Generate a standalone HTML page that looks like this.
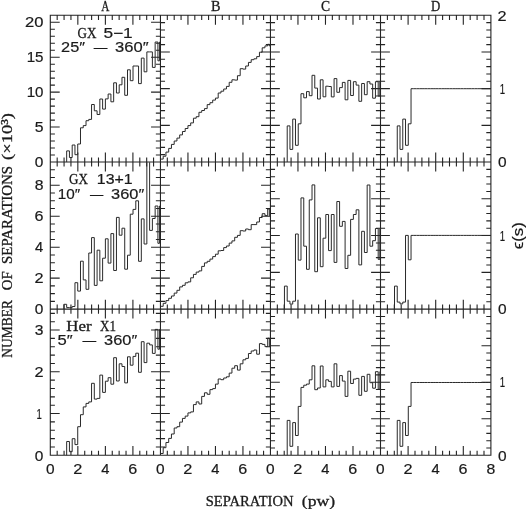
<!DOCTYPE html>
<html lang="en"><head><meta charset="utf-8"><title>Separation histograms</title>
<style>html,body{margin:0;padding:0;background:#fff;overflow:hidden}svg{display:block}</style></head>
<body>
<svg width="526" height="509" viewBox="0 0 526 509">
<rect width="526" height="509" fill="#fff"/>
<defs>
<clipPath id="cp00"><rect x="50.30" y="15.30" width="110.15" height="146.70"/></clipPath>
<clipPath id="cp01"><rect x="160.45" y="15.30" width="110.00" height="146.70"/></clipPath>
<clipPath id="cp02"><rect x="270.45" y="15.30" width="110.05" height="146.70"/></clipPath>
<clipPath id="cp03"><rect x="380.50" y="15.30" width="110.40" height="146.70"/></clipPath>
<clipPath id="cp10"><rect x="50.30" y="162.00" width="110.15" height="147.15"/></clipPath>
<clipPath id="cp11"><rect x="160.45" y="162.00" width="110.00" height="147.15"/></clipPath>
<clipPath id="cp12"><rect x="270.45" y="162.00" width="110.05" height="147.15"/></clipPath>
<clipPath id="cp13"><rect x="380.50" y="162.00" width="110.40" height="147.15"/></clipPath>
<clipPath id="cp20"><rect x="50.30" y="309.15" width="110.15" height="146.15"/></clipPath>
<clipPath id="cp21"><rect x="160.45" y="309.15" width="110.00" height="146.15"/></clipPath>
<clipPath id="cp22"><rect x="270.45" y="309.15" width="110.05" height="146.15"/></clipPath>
<clipPath id="cp23"><rect x="380.50" y="309.15" width="110.40" height="146.15"/></clipPath>
</defs>
<path d="M50.30 14.75V455.85M160.45 14.75V455.85M270.45 14.75V455.85M380.50 14.75V455.85M490.90 14.75V455.85M49.75 15.30H491.45M49.75 162.00H491.45M49.75 309.15H491.45M49.75 455.30H491.45M57.18 15.30V19.90M57.18 162.00V157.40M57.18 162.00V166.60M57.18 309.15V304.55M57.18 309.15V313.75M57.18 455.30V450.70M64.07 15.30V19.90M64.07 162.00V157.40M64.07 162.00V166.60M64.07 309.15V304.55M64.07 309.15V313.75M64.07 455.30V450.70M70.95 15.30V19.90M70.95 162.00V157.40M70.95 162.00V166.60M70.95 309.15V304.55M70.95 309.15V313.75M70.95 455.30V450.70M77.84 15.30V24.70M77.84 162.00V152.60M77.84 162.00V171.40M77.84 309.15V299.75M77.84 309.15V318.55M77.84 455.30V445.90M84.72 15.30V19.90M84.72 162.00V157.40M84.72 162.00V166.60M84.72 309.15V304.55M84.72 309.15V313.75M84.72 455.30V450.70M91.61 15.30V19.90M91.61 162.00V157.40M91.61 162.00V166.60M91.61 309.15V304.55M91.61 309.15V313.75M91.61 455.30V450.70M98.49 15.30V19.90M98.49 162.00V157.40M98.49 162.00V166.60M98.49 309.15V304.55M98.49 309.15V313.75M98.49 455.30V450.70M105.38 15.30V24.70M105.38 162.00V152.60M105.38 162.00V171.40M105.38 309.15V299.75M105.38 309.15V318.55M105.38 455.30V445.90M112.26 15.30V19.90M112.26 162.00V157.40M112.26 162.00V166.60M112.26 309.15V304.55M112.26 309.15V313.75M112.26 455.30V450.70M119.14 15.30V19.90M119.14 162.00V157.40M119.14 162.00V166.60M119.14 309.15V304.55M119.14 309.15V313.75M119.14 455.30V450.70M126.03 15.30V19.90M126.03 162.00V157.40M126.03 162.00V166.60M126.03 309.15V304.55M126.03 309.15V313.75M126.03 455.30V450.70M132.91 15.30V24.70M132.91 162.00V152.60M132.91 162.00V171.40M132.91 309.15V299.75M132.91 309.15V318.55M132.91 455.30V445.90M139.80 15.30V19.90M139.80 162.00V157.40M139.80 162.00V166.60M139.80 309.15V304.55M139.80 309.15V313.75M139.80 455.30V450.70M146.68 15.30V19.90M146.68 162.00V157.40M146.68 162.00V166.60M146.68 309.15V304.55M146.68 309.15V313.75M146.68 455.30V450.70M153.57 15.30V19.90M153.57 162.00V157.40M153.57 162.00V166.60M153.57 309.15V304.55M153.57 309.15V313.75M153.57 455.30V450.70M167.32 15.30V19.90M167.32 162.00V157.40M167.32 162.00V166.60M167.32 309.15V304.55M167.32 309.15V313.75M167.32 455.30V450.70M174.20 15.30V19.90M174.20 162.00V157.40M174.20 162.00V166.60M174.20 309.15V304.55M174.20 309.15V313.75M174.20 455.30V450.70M181.07 15.30V19.90M181.07 162.00V157.40M181.07 162.00V166.60M181.07 309.15V304.55M181.07 309.15V313.75M181.07 455.30V450.70M187.95 15.30V24.70M187.95 162.00V152.60M187.95 162.00V171.40M187.95 309.15V299.75M187.95 309.15V318.55M187.95 455.30V445.90M194.82 15.30V19.90M194.82 162.00V157.40M194.82 162.00V166.60M194.82 309.15V304.55M194.82 309.15V313.75M194.82 455.30V450.70M201.70 15.30V19.90M201.70 162.00V157.40M201.70 162.00V166.60M201.70 309.15V304.55M201.70 309.15V313.75M201.70 455.30V450.70M208.57 15.30V19.90M208.57 162.00V157.40M208.57 162.00V166.60M208.57 309.15V304.55M208.57 309.15V313.75M208.57 455.30V450.70M215.45 15.30V24.70M215.45 162.00V152.60M215.45 162.00V171.40M215.45 309.15V299.75M215.45 309.15V318.55M215.45 455.30V445.90M222.32 15.30V19.90M222.32 162.00V157.40M222.32 162.00V166.60M222.32 309.15V304.55M222.32 309.15V313.75M222.32 455.30V450.70M229.20 15.30V19.90M229.20 162.00V157.40M229.20 162.00V166.60M229.20 309.15V304.55M229.20 309.15V313.75M229.20 455.30V450.70M236.07 15.30V19.90M236.07 162.00V157.40M236.07 162.00V166.60M236.07 309.15V304.55M236.07 309.15V313.75M236.07 455.30V450.70M242.95 15.30V24.70M242.95 162.00V152.60M242.95 162.00V171.40M242.95 309.15V299.75M242.95 309.15V318.55M242.95 455.30V445.90M249.82 15.30V19.90M249.82 162.00V157.40M249.82 162.00V166.60M249.82 309.15V304.55M249.82 309.15V313.75M249.82 455.30V450.70M256.70 15.30V19.90M256.70 162.00V157.40M256.70 162.00V166.60M256.70 309.15V304.55M256.70 309.15V313.75M256.70 455.30V450.70M263.57 15.30V19.90M263.57 162.00V157.40M263.57 162.00V166.60M263.57 309.15V304.55M263.57 309.15V313.75M263.57 455.30V450.70M277.33 15.30V19.90M277.33 162.00V157.40M277.33 162.00V166.60M277.33 309.15V304.55M277.33 309.15V313.75M277.33 455.30V450.70M284.21 15.30V19.90M284.21 162.00V157.40M284.21 162.00V166.60M284.21 309.15V304.55M284.21 309.15V313.75M284.21 455.30V450.70M291.08 15.30V19.90M291.08 162.00V157.40M291.08 162.00V166.60M291.08 309.15V304.55M291.08 309.15V313.75M291.08 455.30V450.70M297.96 15.30V24.70M297.96 162.00V152.60M297.96 162.00V171.40M297.96 309.15V299.75M297.96 309.15V318.55M297.96 455.30V445.90M304.84 15.30V19.90M304.84 162.00V157.40M304.84 162.00V166.60M304.84 309.15V304.55M304.84 309.15V313.75M304.84 455.30V450.70M311.72 15.30V19.90M311.72 162.00V157.40M311.72 162.00V166.60M311.72 309.15V304.55M311.72 309.15V313.75M311.72 455.30V450.70M318.60 15.30V19.90M318.60 162.00V157.40M318.60 162.00V166.60M318.60 309.15V304.55M318.60 309.15V313.75M318.60 455.30V450.70M325.48 15.30V24.70M325.48 162.00V152.60M325.48 162.00V171.40M325.48 309.15V299.75M325.48 309.15V318.55M325.48 455.30V445.90M332.35 15.30V19.90M332.35 162.00V157.40M332.35 162.00V166.60M332.35 309.15V304.55M332.35 309.15V313.75M332.35 455.30V450.70M339.23 15.30V19.90M339.23 162.00V157.40M339.23 162.00V166.60M339.23 309.15V304.55M339.23 309.15V313.75M339.23 455.30V450.70M346.11 15.30V19.90M346.11 162.00V157.40M346.11 162.00V166.60M346.11 309.15V304.55M346.11 309.15V313.75M346.11 455.30V450.70M352.99 15.30V24.70M352.99 162.00V152.60M352.99 162.00V171.40M352.99 309.15V299.75M352.99 309.15V318.55M352.99 455.30V445.90M359.87 15.30V19.90M359.87 162.00V157.40M359.87 162.00V166.60M359.87 309.15V304.55M359.87 309.15V313.75M359.87 455.30V450.70M366.74 15.30V19.90M366.74 162.00V157.40M366.74 162.00V166.60M366.74 309.15V304.55M366.74 309.15V313.75M366.74 455.30V450.70M373.62 15.30V19.90M373.62 162.00V157.40M373.62 162.00V166.60M373.62 309.15V304.55M373.62 309.15V313.75M373.62 455.30V450.70M387.40 15.30V19.90M387.40 162.00V157.40M387.40 162.00V166.60M387.40 309.15V304.55M387.40 309.15V313.75M387.40 455.30V450.70M394.30 15.30V19.90M394.30 162.00V157.40M394.30 162.00V166.60M394.30 309.15V304.55M394.30 309.15V313.75M394.30 455.30V450.70M401.20 15.30V19.90M401.20 162.00V157.40M401.20 162.00V166.60M401.20 309.15V304.55M401.20 309.15V313.75M401.20 455.30V450.70M408.10 15.30V24.70M408.10 162.00V152.60M408.10 162.00V171.40M408.10 309.15V299.75M408.10 309.15V318.55M408.10 455.30V445.90M415.00 15.30V19.90M415.00 162.00V157.40M415.00 162.00V166.60M415.00 309.15V304.55M415.00 309.15V313.75M415.00 455.30V450.70M421.90 15.30V19.90M421.90 162.00V157.40M421.90 162.00V166.60M421.90 309.15V304.55M421.90 309.15V313.75M421.90 455.30V450.70M428.80 15.30V19.90M428.80 162.00V157.40M428.80 162.00V166.60M428.80 309.15V304.55M428.80 309.15V313.75M428.80 455.30V450.70M435.70 15.30V24.70M435.70 162.00V152.60M435.70 162.00V171.40M435.70 309.15V299.75M435.70 309.15V318.55M435.70 455.30V445.90M442.60 15.30V19.90M442.60 162.00V157.40M442.60 162.00V166.60M442.60 309.15V304.55M442.60 309.15V313.75M442.60 455.30V450.70M449.50 15.30V19.90M449.50 162.00V157.40M449.50 162.00V166.60M449.50 309.15V304.55M449.50 309.15V313.75M449.50 455.30V450.70M456.40 15.30V19.90M456.40 162.00V157.40M456.40 162.00V166.60M456.40 309.15V304.55M456.40 309.15V313.75M456.40 455.30V450.70M463.30 15.30V24.70M463.30 162.00V152.60M463.30 162.00V171.40M463.30 309.15V299.75M463.30 309.15V318.55M463.30 455.30V445.90M470.20 15.30V19.90M470.20 162.00V157.40M470.20 162.00V166.60M470.20 309.15V304.55M470.20 309.15V313.75M470.20 455.30V450.70M477.10 15.30V19.90M477.10 162.00V157.40M477.10 162.00V166.60M477.10 309.15V304.55M477.10 309.15V313.75M477.10 455.30V450.70M484.00 15.30V19.90M484.00 162.00V157.40M484.00 162.00V166.60M484.00 309.15V304.55M484.00 309.15V313.75M484.00 455.30V450.70M50.30 155.01H54.90M160.45 155.01H155.85M50.30 148.03H54.90M160.45 148.03H155.85M50.30 141.04H54.90M160.45 141.04H155.85M50.30 134.06H54.90M160.45 134.06H155.85M50.30 127.07H59.70M160.45 127.07H151.05M50.30 120.09H54.90M160.45 120.09H155.85M50.30 113.10H54.90M160.45 113.10H155.85M50.30 106.11H54.90M160.45 106.11H155.85M50.30 99.13H54.90M160.45 99.13H155.85M50.30 92.14H59.70M160.45 92.14H151.05M50.30 85.16H54.90M160.45 85.16H155.85M50.30 78.17H54.90M160.45 78.17H155.85M50.30 71.19H54.90M160.45 71.19H155.85M50.30 64.20H54.90M160.45 64.20H155.85M50.30 57.21H59.70M160.45 57.21H151.05M50.30 50.23H54.90M160.45 50.23H155.85M50.30 43.24H54.90M160.45 43.24H155.85M50.30 36.26H54.90M160.45 36.26H155.85M50.30 29.27H54.90M160.45 29.27H155.85M50.30 22.29H59.70M160.45 22.29H151.05M160.45 154.66H165.05M270.45 154.66H265.85M160.45 147.33H165.05M270.45 147.33H265.85M160.45 140.00H165.05M270.45 140.00H265.85M160.45 132.66H165.05M270.45 132.66H265.85M160.45 125.33H169.85M270.45 125.33H261.05M160.45 117.99H165.05M270.45 117.99H265.85M160.45 110.66H165.05M270.45 110.66H265.85M160.45 103.32H165.05M270.45 103.32H265.85M160.45 95.98H165.05M270.45 95.98H265.85M160.45 88.65H169.85M270.45 88.65H261.05M160.45 81.31H165.05M270.45 81.31H265.85M160.45 73.98H165.05M270.45 73.98H265.85M160.45 66.64H165.05M270.45 66.64H265.85M160.45 59.31H165.05M270.45 59.31H265.85M160.45 51.97H169.85M270.45 51.97H261.05M160.45 44.64H165.05M270.45 44.64H265.85M160.45 37.31H165.05M270.45 37.31H265.85M160.45 29.97H165.05M270.45 29.97H265.85M160.45 22.63H165.05M270.45 22.63H265.85M270.45 154.66H275.05M380.50 154.66H375.90M270.45 147.33H275.05M380.50 147.33H375.90M270.45 140.00H275.05M380.50 140.00H375.90M270.45 132.66H275.05M380.50 132.66H375.90M270.45 125.33H279.85M380.50 125.33H371.10M270.45 117.99H275.05M380.50 117.99H375.90M270.45 110.66H275.05M380.50 110.66H375.90M270.45 103.32H275.05M380.50 103.32H375.90M270.45 95.98H275.05M380.50 95.98H375.90M270.45 88.65H279.85M380.50 88.65H371.10M270.45 81.31H275.05M380.50 81.31H375.90M270.45 73.98H275.05M380.50 73.98H375.90M270.45 66.64H275.05M380.50 66.64H375.90M270.45 59.31H275.05M380.50 59.31H375.90M270.45 51.97H279.85M380.50 51.97H371.10M270.45 44.64H275.05M380.50 44.64H375.90M270.45 37.31H275.05M380.50 37.31H375.90M270.45 29.97H275.05M380.50 29.97H375.90M270.45 22.63H275.05M380.50 22.63H375.90M380.50 154.66H385.10M490.90 154.66H486.30M380.50 147.33H385.10M490.90 147.33H486.30M380.50 140.00H385.10M490.90 140.00H486.30M380.50 132.66H385.10M490.90 132.66H486.30M380.50 125.33H389.90M490.90 125.33H481.50M380.50 117.99H385.10M490.90 117.99H486.30M380.50 110.66H385.10M490.90 110.66H486.30M380.50 103.32H385.10M490.90 103.32H486.30M380.50 95.98H385.10M490.90 95.98H486.30M380.50 88.65H389.90M490.90 88.65H481.50M380.50 81.31H385.10M490.90 81.31H486.30M380.50 73.98H385.10M490.90 73.98H486.30M380.50 66.64H385.10M490.90 66.64H486.30M380.50 59.31H385.10M490.90 59.31H486.30M380.50 51.97H389.90M490.90 51.97H481.50M380.50 44.64H385.10M490.90 44.64H486.30M380.50 37.31H385.10M490.90 37.31H486.30M380.50 29.97H385.10M490.90 29.97H486.30M380.50 22.63H385.10M490.90 22.63H486.30M50.30 301.41H54.90M160.45 301.41H155.85M50.30 293.66H54.90M160.45 293.66H155.85M50.30 285.92H54.90M160.45 285.92H155.85M50.30 278.17H59.70M160.45 278.17H151.05M50.30 270.43H54.90M160.45 270.43H155.85M50.30 262.68H54.90M160.45 262.68H155.85M50.30 254.94H54.90M160.45 254.94H155.85M50.30 247.19H59.70M160.45 247.19H151.05M50.30 239.45H54.90M160.45 239.45H155.85M50.30 231.70H54.90M160.45 231.70H155.85M50.30 223.96H54.90M160.45 223.96H155.85M50.30 216.21H59.70M160.45 216.21H151.05M50.30 208.47H54.90M160.45 208.47H155.85M50.30 200.72H54.90M160.45 200.72H155.85M50.30 192.98H54.90M160.45 192.98H155.85M50.30 185.23H59.70M160.45 185.23H151.05M50.30 177.49H54.90M160.45 177.49H155.85M50.30 169.74H54.90M160.45 169.74H155.85M160.45 301.41H165.05M270.45 301.41H265.85M160.45 293.66H165.05M270.45 293.66H265.85M160.45 285.92H165.05M270.45 285.92H265.85M160.45 278.17H169.85M270.45 278.17H261.05M160.45 270.43H165.05M270.45 270.43H265.85M160.45 262.68H165.05M270.45 262.68H265.85M160.45 254.94H165.05M270.45 254.94H265.85M160.45 247.19H169.85M270.45 247.19H261.05M160.45 239.45H165.05M270.45 239.45H265.85M160.45 231.70H165.05M270.45 231.70H265.85M160.45 223.96H165.05M270.45 223.96H265.85M160.45 216.21H169.85M270.45 216.21H261.05M160.45 208.47H165.05M270.45 208.47H265.85M160.45 200.72H165.05M270.45 200.72H265.85M160.45 192.98H165.05M270.45 192.98H265.85M160.45 185.23H169.85M270.45 185.23H261.05M160.45 177.49H165.05M270.45 177.49H265.85M160.45 169.74H165.05M270.45 169.74H265.85M270.45 301.79H275.05M380.50 301.79H375.90M270.45 294.44H275.05M380.50 294.44H375.90M270.45 287.08H275.05M380.50 287.08H375.90M270.45 279.72H275.05M380.50 279.72H375.90M270.45 272.36H279.85M380.50 272.36H371.10M270.45 265.00H275.05M380.50 265.00H375.90M270.45 257.65H275.05M380.50 257.65H375.90M270.45 250.29H275.05M380.50 250.29H375.90M270.45 242.93H275.05M380.50 242.93H375.90M270.45 235.57H279.85M380.50 235.57H371.10M270.45 228.22H275.05M380.50 228.22H375.90M270.45 220.86H275.05M380.50 220.86H375.90M270.45 213.50H275.05M380.50 213.50H375.90M270.45 206.14H275.05M380.50 206.14H375.90M270.45 198.79H279.85M380.50 198.79H371.10M270.45 191.43H275.05M380.50 191.43H375.90M270.45 184.07H275.05M380.50 184.07H375.90M270.45 176.72H275.05M380.50 176.72H375.90M270.45 169.36H275.05M380.50 169.36H375.90M380.50 301.79H385.10M490.90 301.79H486.30M380.50 294.44H385.10M490.90 294.44H486.30M380.50 287.08H385.10M490.90 287.08H486.30M380.50 279.72H385.10M490.90 279.72H486.30M380.50 272.36H389.90M490.90 272.36H481.50M380.50 265.00H385.10M490.90 265.00H486.30M380.50 257.65H385.10M490.90 257.65H486.30M380.50 250.29H385.10M490.90 250.29H486.30M380.50 242.93H385.10M490.90 242.93H486.30M380.50 235.57H389.90M490.90 235.57H481.50M380.50 228.22H385.10M490.90 228.22H486.30M380.50 220.86H385.10M490.90 220.86H486.30M380.50 213.50H385.10M490.90 213.50H486.30M380.50 206.14H385.10M490.90 206.14H486.30M380.50 198.79H389.90M490.90 198.79H481.50M380.50 191.43H385.10M490.90 191.43H486.30M380.50 184.07H385.10M490.90 184.07H486.30M380.50 176.72H385.10M490.90 176.72H486.30M380.50 169.36H385.10M490.90 169.36H486.30M50.30 446.95H54.90M160.45 446.95H155.85M50.30 438.60H54.90M160.45 438.60H155.85M50.30 430.25H54.90M160.45 430.25H155.85M50.30 421.89H54.90M160.45 421.89H155.85M50.30 413.54H59.70M160.45 413.54H151.05M50.30 405.19H54.90M160.45 405.19H155.85M50.30 396.84H54.90M160.45 396.84H155.85M50.30 388.49H54.90M160.45 388.49H155.85M50.30 380.14H54.90M160.45 380.14H155.85M50.30 371.79H59.70M160.45 371.79H151.05M50.30 363.43H54.90M160.45 363.43H155.85M50.30 355.08H54.90M160.45 355.08H155.85M50.30 346.73H54.90M160.45 346.73H155.85M50.30 338.38H54.90M160.45 338.38H155.85M50.30 330.03H59.70M160.45 330.03H151.05M50.30 321.68H54.90M160.45 321.68H155.85M50.30 313.33H54.90M160.45 313.33H155.85M160.45 446.95H165.05M270.45 446.95H265.85M160.45 438.60H165.05M270.45 438.60H265.85M160.45 430.25H165.05M270.45 430.25H265.85M160.45 421.89H165.05M270.45 421.89H265.85M160.45 413.54H169.85M270.45 413.54H261.05M160.45 405.19H165.05M270.45 405.19H265.85M160.45 396.84H165.05M270.45 396.84H265.85M160.45 388.49H165.05M270.45 388.49H265.85M160.45 380.14H165.05M270.45 380.14H265.85M160.45 371.79H169.85M270.45 371.79H261.05M160.45 363.43H165.05M270.45 363.43H265.85M160.45 355.08H165.05M270.45 355.08H265.85M160.45 346.73H165.05M270.45 346.73H265.85M160.45 338.38H165.05M270.45 338.38H265.85M160.45 330.03H169.85M270.45 330.03H261.05M160.45 321.68H165.05M270.45 321.68H265.85M160.45 313.33H165.05M270.45 313.33H265.85M270.45 447.99H275.05M380.50 447.99H375.90M270.45 440.69H275.05M380.50 440.69H375.90M270.45 433.38H275.05M380.50 433.38H375.90M270.45 426.07H275.05M380.50 426.07H375.90M270.45 418.76H279.85M380.50 418.76H371.10M270.45 411.45H275.05M380.50 411.45H375.90M270.45 404.15H275.05M380.50 404.15H375.90M270.45 396.84H275.05M380.50 396.84H375.90M270.45 389.53H275.05M380.50 389.53H375.90M270.45 382.23H279.85M380.50 382.23H371.10M270.45 374.92H275.05M380.50 374.92H375.90M270.45 367.61H275.05M380.50 367.61H375.90M270.45 360.30H275.05M380.50 360.30H375.90M270.45 353.00H275.05M380.50 353.00H375.90M270.45 345.69H279.85M380.50 345.69H371.10M270.45 338.38H275.05M380.50 338.38H375.90M270.45 331.07H275.05M380.50 331.07H375.90M270.45 323.76H275.05M380.50 323.76H375.90M270.45 316.46H275.05M380.50 316.46H375.90M380.50 447.99H385.10M490.90 447.99H486.30M380.50 440.69H385.10M490.90 440.69H486.30M380.50 433.38H385.10M490.90 433.38H486.30M380.50 426.07H385.10M490.90 426.07H486.30M380.50 418.76H389.90M490.90 418.76H481.50M380.50 411.45H385.10M490.90 411.45H486.30M380.50 404.15H385.10M490.90 404.15H486.30M380.50 396.84H385.10M490.90 396.84H486.30M380.50 389.53H385.10M490.90 389.53H486.30M380.50 382.23H389.90M490.90 382.23H481.50M380.50 374.92H385.10M490.90 374.92H486.30M380.50 367.61H385.10M490.90 367.61H486.30M380.50 360.30H385.10M490.90 360.30H486.30M380.50 353.00H385.10M490.90 353.00H486.30M380.50 345.69H389.90M490.90 345.69H481.50M380.50 338.38H385.10M490.90 338.38H486.30M380.50 331.07H385.10M490.90 331.07H486.30M380.50 323.76H385.10M490.90 323.76H486.30M380.50 316.46H385.10M490.90 316.46H486.30" fill="none" stroke="#242424" stroke-width="1.10" stroke-linecap="butt"/>
<path clip-path="url(#cp00)" d="M66.66 162.00 L66.66 150.70 L69.43 150.70 L69.43 157.30 L72.19 157.30 L72.19 144.80 L74.96 144.80 L74.96 154.50 L77.72 154.50 L77.72 143.80 L80.49 143.80 L80.49 127.60 L83.25 127.60 L83.25 125.40 L86.02 125.40 L86.02 120.50 L88.78 120.50 L88.78 119.20 L91.55 119.20 L91.55 104.30 L94.31 104.30 L94.31 110.60 L97.08 110.60 L97.08 114.30 L99.84 114.30 L99.84 98.80 L102.61 98.80 L102.61 108.90 L105.38 108.90 L105.38 98.70 L108.14 98.70 L108.14 93.80 L110.91 93.80 L110.91 101.60 L113.67 101.60 L113.67 82.60 L116.44 82.60 L116.44 92.80 L119.20 92.80 L119.20 84.60 L121.97 84.60 L121.97 77.10 L124.73 77.10 L124.73 95.10 L127.50 95.10 L127.50 69.60 L130.26 69.60 L130.26 80.50 L133.03 80.50 L133.03 65.80 L135.79 65.80 L135.79 65.80 L138.56 65.80 L138.56 83.40 L141.32 83.40 L141.32 57.90 L144.09 57.90 L144.09 71.60 L146.85 71.60 L146.85 51.70 L149.62 51.70 L149.62 51.70 L152.38 51.70 L152.38 67.20 L155.15 67.20 L155.15 41.80 L157.91 41.80 L157.91 60.60 L159.58 60.60 L159.58 41.80 L161.18 41.80" fill="none" stroke="#2a2a2a" stroke-width="1.00" stroke-linejoin="miter" transform="translate(0,0.2)"/>
<path clip-path="url(#cp01)" d="M160.45 158.90 L163.20 158.90 L163.20 156.00 L165.95 156.00 L165.95 151.90 L168.70 151.90 L168.70 148.20 L171.45 148.20 L171.45 144.20 L174.20 144.20 L174.20 140.80 L176.95 140.80 L176.95 137.90 L179.70 137.90 L179.70 134.70 L182.45 134.70 L182.45 131.30 L185.20 131.30 L185.20 128.30 L187.95 128.30 L187.95 125.40 L190.70 125.40 L190.70 122.70 L193.45 122.70 L193.45 118.00 L196.20 118.00 L196.20 116.50 L198.95 116.50 L198.95 112.10 L201.70 112.10 L201.70 110.30 L204.45 110.30 L204.45 108.40 L207.20 108.40 L207.20 104.40 L209.95 104.40 L209.95 102.50 L212.70 102.50 L212.70 99.90 L215.45 99.90 L215.45 97.90 L218.20 97.90 L218.20 92.80 L220.95 92.80 L220.95 91.00 L223.70 91.00 L223.70 88.80 L226.45 88.80 L226.45 86.20 L229.20 86.20 L229.20 82.10 L231.95 82.10 L231.95 79.60 L234.70 79.60 L234.70 79.90 L237.45 79.90 L237.45 75.50 L240.20 75.50 L240.20 68.50 L242.95 68.50 L242.95 68.90 L245.70 68.90 L245.70 65.80 L248.45 65.80 L248.45 62.20 L251.20 62.20 L251.20 59.50 L253.95 59.50 L253.95 58.60 L256.70 58.60 L256.70 56.40 L259.45 56.40 L259.45 52.00 L262.20 52.00 L262.20 47.60 L264.95 47.60 L264.95 45.70 L267.70 45.70 L267.70 44.10 L269.35 44.10 L269.35 45.70 L270.95 45.70" fill="none" stroke="#2a2a2a" stroke-width="1.00" stroke-linejoin="miter" transform="translate(0,0.2)"/>
<path clip-path="url(#cp02)" d="M287.21 162.00 L287.21 125.70 L289.96 125.70 L289.96 149.20 L292.72 149.20 L292.72 118.90 L295.48 118.90 L295.48 145.10 L298.24 145.10 L298.24 123.60 L300.99 123.60 L300.99 93.50 L303.75 93.50 L303.75 97.60 L306.51 97.60 L306.51 91.40 L309.26 91.40 L309.26 95.50 L312.02 95.50 L312.02 75.10 L314.78 75.10 L314.78 87.90 L317.53 87.90 L317.53 98.80 L320.29 98.80 L320.29 79.60 L323.05 79.60 L323.05 96.60 L325.81 96.60 L325.81 86.00 L328.56 86.00 L328.56 86.30 L331.32 86.30 L331.32 96.70 L334.08 96.70 L334.08 78.40 L336.83 78.40 L336.83 92.10 L339.59 92.10 L339.59 87.40 L342.35 87.40 L342.35 82.20 L345.10 82.20 L345.10 99.60 L347.86 99.60 L347.86 80.20 L350.62 80.20 L350.62 95.30 L353.38 95.30 L353.38 81.50 L356.13 81.50 L356.13 84.90 L358.89 84.90 L358.89 101.10 L361.65 101.10 L361.65 83.30 L364.40 83.30 L364.40 94.50 L367.16 94.50 L367.16 81.50 L369.92 81.50 L369.92 83.80 L372.67 83.80 L372.67 98.00 L375.43 98.00 L375.43 81.50 L378.19 81.50 L378.19 95.90 L379.84 95.90 L379.84 81.50 L381.44 81.50" fill="none" stroke="#2a2a2a" stroke-width="1.00" stroke-linejoin="miter" transform="translate(0,0.2)"/>
<path clip-path="url(#cp03)" d="M397.26 162.00 L397.26 125.70 L400.01 125.70 L400.01 149.20 L402.77 149.20 L402.77 118.90 L405.53 118.90 L405.53 145.10 L408.29 145.10 L408.29 123.60 L411.04 123.60 L411.04 88.50 L413.80 88.50 L413.80 88.50 L416.56 88.50 L416.56 88.50 L419.31 88.50 L419.31 88.50 L422.07 88.50 L422.07 88.50 L424.83 88.50 L424.83 88.50 L427.58 88.50 L427.58 88.50 L430.34 88.50 L430.34 88.50 L433.10 88.50 L433.10 88.50 L435.86 88.50 L435.86 88.50 L438.61 88.50 L438.61 88.50 L441.37 88.50 L441.37 88.50 L444.13 88.50 L444.13 88.50 L446.88 88.50 L446.88 88.50 L449.64 88.50 L449.64 88.50 L452.40 88.50 L452.40 88.50 L455.15 88.50 L455.15 88.50 L457.91 88.50 L457.91 88.50 L460.67 88.50 L460.67 88.50 L463.43 88.50 L463.43 88.50 L466.18 88.50 L466.18 88.50 L468.94 88.50 L468.94 88.50 L471.70 88.50 L471.70 88.50 L474.45 88.50 L474.45 88.50 L477.21 88.50 L477.21 88.50 L479.97 88.50 L479.97 88.50 L482.72 88.50 L482.72 88.50 L485.48 88.50 L485.48 88.50 L488.24 88.50 L488.24 88.50 L489.89 88.50 L489.89 88.50 L491.50 88.50" fill="none" stroke="#2a2a2a" stroke-width="1.00" stroke-linejoin="miter" transform="translate(0,0.2)"/>
<path clip-path="url(#cp10)" d="M63.90 309.15 L63.90 304.10 L66.66 304.10 L66.66 307.40 L69.43 307.40 L69.43 307.40 L72.19 307.40 L72.19 306.30 L74.96 306.30 L74.96 282.50 L77.72 282.50 L77.72 290.90 L80.49 290.90 L80.49 261.00 L83.25 261.00 L83.25 279.70 L86.02 279.70 L86.02 289.10 L88.78 289.10 L88.78 252.80 L91.55 252.80 L91.55 237.40 L94.31 237.40 L94.31 285.20 L97.08 285.20 L97.08 250.00 L99.84 250.00 L99.84 280.60 L102.61 280.60 L102.61 258.00 L105.38 258.00 L105.38 238.60 L108.14 238.60 L108.14 262.90 L110.91 262.90 L110.91 233.40 L113.67 233.40 L113.67 270.30 L116.44 270.30 L116.44 217.20 L119.20 217.20 L119.20 235.00 L121.97 235.00 L121.97 228.00 L124.73 228.00 L124.73 269.00 L127.50 269.00 L127.50 255.00 L130.26 255.00 L130.26 214.00 L133.03 214.00 L133.03 209.20 L135.79 209.20 L135.79 200.60 L138.56 200.60 L138.56 261.10 L141.32 261.10 L141.32 218.70 L144.09 218.70 L144.09 243.80 L146.85 243.80 L146.85 140.00 L149.62 140.00 L149.62 230.20 L152.38 230.20 L152.38 218.30 L155.15 218.30 L155.15 205.80 L157.91 205.80 L157.91 243.10 L159.58 243.10 L159.58 205.80 L161.18 205.80" fill="none" stroke="#2a2a2a" stroke-width="1.00" stroke-linejoin="miter" transform="translate(0,0.2)"/>
<path clip-path="url(#cp11)" d="M160.45 306.10 L163.20 306.10 L163.20 303.10 L165.95 303.10 L165.95 300.40 L168.70 300.40 L168.70 298.10 L171.45 298.10 L171.45 295.80 L174.20 295.80 L174.20 292.90 L176.95 292.90 L176.95 290.10 L179.70 290.10 L179.70 286.70 L182.45 286.70 L182.45 285.10 L185.20 285.10 L185.20 282.60 L187.95 282.60 L187.95 281.70 L190.70 281.70 L190.70 277.60 L193.45 277.60 L193.45 274.20 L196.20 274.20 L196.20 271.90 L198.95 271.90 L198.95 270.70 L201.70 270.70 L201.70 266.20 L204.45 266.20 L204.45 262.70 L207.20 262.70 L207.20 261.10 L209.95 261.10 L209.95 258.90 L212.70 258.90 L212.70 256.40 L215.45 256.40 L215.45 254.00 L218.20 254.00 L218.20 250.60 L220.95 250.60 L220.95 250.30 L223.70 250.30 L223.70 247.40 L226.45 247.40 L226.45 245.80 L229.20 245.80 L229.20 242.90 L231.95 242.90 L231.95 240.70 L234.70 240.70 L234.70 237.10 L237.45 237.10 L237.45 235.20 L240.20 235.20 L240.20 230.50 L242.95 230.50 L242.95 230.80 L245.70 230.80 L245.70 228.80 L248.45 228.80 L248.45 229.50 L251.20 229.50 L251.20 224.40 L253.95 224.40 L253.95 224.40 L256.70 224.40 L256.70 221.80 L259.45 221.80 L259.45 217.30 L262.20 217.30 L262.20 213.50 L264.95 213.50 L264.95 215.40 L267.70 215.40 L267.70 208.80 L269.35 208.80 L269.35 215.40 L270.95 215.40" fill="none" stroke="#2a2a2a" stroke-width="1.00" stroke-linejoin="miter" transform="translate(0,0.2)"/>
<path clip-path="url(#cp12)" d="M284.45 309.15 L284.45 285.90 L287.21 285.90 L287.21 301.00 L289.96 301.00 L289.96 303.90 L292.72 303.90 L292.72 301.00 L295.48 301.00 L295.48 233.80 L298.24 233.80 L298.24 259.90 L300.99 259.90 L300.99 197.70 L303.75 197.70 L303.75 246.00 L306.51 246.00 L306.51 269.10 L309.26 269.10 L309.26 199.70 L312.02 199.70 L312.02 184.70 L314.78 184.70 L314.78 271.50 L317.53 271.50 L317.53 217.60 L320.29 217.60 L320.29 266.50 L323.05 266.50 L323.05 238.00 L325.81 238.00 L325.81 214.30 L328.56 214.30 L328.56 250.40 L331.32 250.40 L331.32 214.30 L334.08 214.30 L334.08 262.20 L336.83 262.20 L336.83 201.30 L339.59 201.30 L339.59 226.10 L342.35 226.10 L342.35 221.20 L345.10 221.20 L345.10 268.30 L347.86 268.30 L347.86 255.10 L350.62 255.10 L350.62 219.20 L353.38 219.20 L353.38 214.30 L356.13 214.30 L356.13 209.60 L358.89 209.60 L358.89 264.70 L361.65 264.70 L361.65 231.10 L364.40 231.10 L364.40 252.30 L367.16 252.30 L367.16 184.80 L369.92 184.80 L369.92 246.00 L372.67 246.00 L372.67 240.50 L375.43 240.50 L375.43 228.30 L378.19 228.30 L378.19 259.20 L379.84 259.20 L379.84 228.30 L381.44 228.30" fill="none" stroke="#2a2a2a" stroke-width="1.00" stroke-linejoin="miter" transform="translate(0,0.2)"/>
<path clip-path="url(#cp13)" d="M394.50 309.15 L394.50 285.90 L397.26 285.90 L397.26 301.90 L400.01 301.90 L400.01 303.70 L402.77 303.70 L402.77 301.90 L405.53 301.90 L405.53 235.20 L408.29 235.20 L408.29 259.60 L411.04 259.60 L411.04 235.20 L413.80 235.20 L413.80 235.20 L416.56 235.20 L416.56 235.20 L419.31 235.20 L419.31 235.20 L422.07 235.20 L422.07 235.20 L424.83 235.20 L424.83 235.20 L427.58 235.20 L427.58 235.20 L430.34 235.20 L430.34 235.20 L433.10 235.20 L433.10 235.20 L435.86 235.20 L435.86 235.20 L438.61 235.20 L438.61 235.20 L441.37 235.20 L441.37 235.20 L444.13 235.20 L444.13 235.20 L446.88 235.20 L446.88 235.20 L449.64 235.20 L449.64 235.20 L452.40 235.20 L452.40 235.20 L455.15 235.20 L455.15 235.20 L457.91 235.20 L457.91 235.20 L460.67 235.20 L460.67 235.20 L463.43 235.20 L463.43 235.20 L466.18 235.20 L466.18 235.20 L468.94 235.20 L468.94 235.20 L471.70 235.20 L471.70 235.20 L474.45 235.20 L474.45 235.20 L477.21 235.20 L477.21 235.20 L479.97 235.20 L479.97 235.20 L482.72 235.20 L482.72 235.20 L485.48 235.20 L485.48 235.20 L488.24 235.20 L488.24 235.20 L489.89 235.20 L489.89 235.20 L491.50 235.20" fill="none" stroke="#2a2a2a" stroke-width="1.00" stroke-linejoin="miter" transform="translate(0,0.2)"/>
<path clip-path="url(#cp20)" d="M66.66 455.30 L66.66 441.30 L69.43 441.30 L69.43 451.50 L72.19 451.50 L72.19 438.50 L74.96 438.50 L74.96 444.40 L77.72 444.40 L77.72 426.50 L80.49 426.50 L80.49 414.50 L83.25 414.50 L83.25 406.70 L86.02 406.70 L86.02 403.20 L88.78 403.20 L88.78 401.70 L91.55 401.70 L91.55 383.10 L94.31 383.10 L94.31 398.90 L97.08 398.90 L97.08 398.20 L99.84 398.20 L99.84 374.90 L102.61 374.90 L102.61 392.20 L105.38 392.20 L105.38 381.00 L108.14 381.00 L108.14 377.50 L110.91 377.50 L110.91 384.00 L113.67 384.00 L113.67 357.50 L116.44 357.50 L116.44 380.80 L119.20 380.80 L119.20 363.60 L121.97 363.60 L121.97 366.30 L124.73 366.30 L124.73 382.70 L127.50 382.70 L127.50 356.60 L130.26 356.60 L130.26 365.00 L133.03 365.00 L133.03 356.20 L135.79 356.20 L135.79 353.00 L138.56 353.00 L138.56 372.10 L141.32 372.10 L141.32 341.50 L144.09 341.50 L144.09 362.40 L146.85 362.40 L146.85 343.00 L149.62 343.00 L149.62 344.70 L152.38 344.70 L152.38 353.20 L155.15 353.20 L155.15 329.20 L157.91 329.20 L157.91 349.00 L159.58 349.00 L159.58 329.20 L161.18 329.20" fill="none" stroke="#2a2a2a" stroke-width="1.00" stroke-linejoin="miter" transform="translate(0,0.2)"/>
<path clip-path="url(#cp21)" d="M160.45 453.30 L163.20 453.30 L163.20 447.50 L165.95 447.50 L165.95 442.30 L168.70 442.30 L168.70 438.20 L171.45 438.20 L171.45 433.80 L174.20 433.80 L174.20 427.80 L176.95 427.80 L176.95 426.50 L179.70 426.50 L179.70 421.90 L182.45 421.90 L182.45 418.20 L185.20 418.20 L185.20 415.90 L187.95 415.90 L187.95 412.70 L190.70 412.70 L190.70 411.70 L193.45 411.70 L193.45 404.40 L196.20 404.40 L196.20 401.70 L198.95 401.70 L198.95 403.80 L201.70 403.80 L201.70 396.20 L204.45 396.20 L204.45 392.60 L207.20 392.60 L207.20 394.10 L209.95 394.10 L209.95 389.40 L212.70 389.40 L212.70 388.40 L215.45 388.40 L215.45 383.90 L218.20 383.90 L218.20 378.80 L220.95 378.80 L220.95 379.50 L223.70 379.50 L223.70 377.80 L226.45 377.80 L226.45 376.60 L229.20 376.60 L229.20 372.90 L231.95 372.90 L231.95 368.00 L234.70 368.00 L234.70 365.50 L237.45 365.50 L237.45 369.90 L240.20 369.90 L240.20 363.60 L242.95 363.60 L242.95 359.60 L245.70 359.60 L245.70 358.20 L248.45 358.20 L248.45 353.30 L251.20 353.30 L251.20 350.80 L253.95 350.80 L253.95 349.80 L256.70 349.80 L256.70 354.00 L259.45 354.00 L259.45 343.40 L262.20 343.40 L262.20 344.20 L264.95 344.20 L264.95 346.40 L267.70 346.40 L267.70 338.00 L269.35 338.00 L269.35 346.40 L270.95 346.40" fill="none" stroke="#2a2a2a" stroke-width="1.00" stroke-linejoin="miter" transform="translate(0,0.2)"/>
<path clip-path="url(#cp22)" d="M287.21 455.30 L287.21 420.20 L289.96 420.20 L289.96 446.10 L292.72 446.10 L292.72 422.40 L295.48 422.40 L295.48 435.30 L298.24 435.30 L298.24 406.20 L300.99 406.20 L300.99 387.20 L303.75 387.20 L303.75 385.00 L306.51 385.00 L306.51 383.90 L309.26 383.90 L309.26 379.60 L312.02 379.60 L312.02 365.60 L314.78 365.60 L314.78 389.50 L317.53 389.50 L317.53 387.80 L320.29 387.80 L320.29 365.80 L323.05 365.80 L323.05 386.70 L325.81 386.70 L325.81 379.60 L328.56 379.60 L328.56 381.20 L331.32 381.20 L331.32 386.70 L334.08 386.70 L334.08 363.60 L336.83 363.60 L336.83 386.20 L339.59 386.20 L339.59 375.40 L342.35 375.40 L342.35 380.90 L345.10 380.90 L345.10 396.20 L347.86 396.20 L347.86 371.00 L350.62 371.00 L350.62 383.30 L353.38 383.30 L353.38 378.90 L356.13 378.90 L356.13 378.20 L358.89 378.20 L358.89 395.10 L361.65 395.10 L361.65 376.20 L364.40 376.20 L364.40 391.10 L367.16 391.10 L367.16 374.10 L369.92 374.10 L369.92 382.50 L372.67 382.50 L372.67 388.00 L375.43 388.00 L375.43 371.50 L378.19 371.50 L378.19 389.10 L379.84 389.10 L379.84 371.50 L381.44 371.50" fill="none" stroke="#2a2a2a" stroke-width="1.00" stroke-linejoin="miter" transform="translate(0,0.2)"/>
<path clip-path="url(#cp23)" d="M397.26 455.30 L397.26 420.20 L400.01 420.20 L400.01 446.10 L402.77 446.10 L402.77 422.40 L405.53 422.40 L405.53 435.30 L408.29 435.30 L408.29 406.20 L411.04 406.20 L411.04 382.30 L413.80 382.30 L413.80 382.30 L416.56 382.30 L416.56 382.30 L419.31 382.30 L419.31 382.30 L422.07 382.30 L422.07 382.30 L424.83 382.30 L424.83 382.30 L427.58 382.30 L427.58 382.30 L430.34 382.30 L430.34 382.30 L433.10 382.30 L433.10 382.30 L435.86 382.30 L435.86 382.30 L438.61 382.30 L438.61 382.30 L441.37 382.30 L441.37 382.30 L444.13 382.30 L444.13 382.30 L446.88 382.30 L446.88 382.30 L449.64 382.30 L449.64 382.30 L452.40 382.30 L452.40 382.30 L455.15 382.30 L455.15 382.30 L457.91 382.30 L457.91 382.30 L460.67 382.30 L460.67 382.30 L463.43 382.30 L463.43 382.30 L466.18 382.30 L466.18 382.30 L468.94 382.30 L468.94 382.30 L471.70 382.30 L471.70 382.30 L474.45 382.30 L474.45 382.30 L477.21 382.30 L477.21 382.30 L479.97 382.30 L479.97 382.30 L482.72 382.30 L482.72 382.30 L485.48 382.30 L485.48 382.30 L488.24 382.30 L488.24 382.30 L489.89 382.30 L489.89 382.30 L491.50 382.30" fill="none" stroke="#2a2a2a" stroke-width="1.00" stroke-linejoin="miter" transform="translate(0,0.2)"/>
<text x="34.86" y="167.20" font-size="14.30" font-family="Liberation Sans, sans-serif" fill="#1a1a1a" stroke="#1a1a1a" stroke-width="0.20" textLength="8.60" lengthAdjust="spacingAndGlyphs">0</text>
<text x="34.77" y="132.27" font-size="14.30" font-family="Liberation Sans, sans-serif" fill="#1a1a1a" stroke="#1a1a1a" stroke-width="0.20" textLength="8.78" lengthAdjust="spacingAndGlyphs">5</text>
<text x="26.67" y="97.34" font-size="14.30" font-family="Liberation Sans, sans-serif" fill="#1a1a1a" stroke="#1a1a1a" stroke-width="0.20" textLength="16.80" lengthAdjust="spacingAndGlyphs">10</text>
<text x="26.66" y="62.41" font-size="14.30" font-family="Liberation Sans, sans-serif" fill="#1a1a1a" stroke="#1a1a1a" stroke-width="0.20" textLength="16.88" lengthAdjust="spacingAndGlyphs">15</text>
<text x="25.07" y="27.49" font-size="14.30" font-family="Liberation Sans, sans-serif" fill="#1a1a1a" stroke="#1a1a1a" stroke-width="0.20" textLength="18.45" lengthAdjust="spacingAndGlyphs">20</text>
<text x="34.86" y="314.35" font-size="14.30" font-family="Liberation Sans, sans-serif" fill="#1a1a1a" stroke="#1a1a1a" stroke-width="0.20" textLength="8.60" lengthAdjust="spacingAndGlyphs">0</text>
<text x="34.58" y="283.37" font-size="14.30" font-family="Liberation Sans, sans-serif" fill="#1a1a1a" stroke="#1a1a1a" stroke-width="0.20" textLength="9.07" lengthAdjust="spacingAndGlyphs">2</text>
<text x="35.11" y="252.39" font-size="14.30" font-family="Liberation Sans, sans-serif" fill="#1a1a1a" stroke="#1a1a1a" stroke-width="0.20" textLength="8.18" lengthAdjust="spacingAndGlyphs">4</text>
<text x="34.59" y="221.41" font-size="14.30" font-family="Liberation Sans, sans-serif" fill="#1a1a1a" stroke="#1a1a1a" stroke-width="0.20" textLength="8.97" lengthAdjust="spacingAndGlyphs">6</text>
<text x="34.77" y="190.43" font-size="14.30" font-family="Liberation Sans, sans-serif" fill="#1a1a1a" stroke="#1a1a1a" stroke-width="0.20" textLength="8.78" lengthAdjust="spacingAndGlyphs">8</text>
<text x="34.86" y="460.50" font-size="14.30" font-family="Liberation Sans, sans-serif" fill="#1a1a1a" stroke="#1a1a1a" stroke-width="0.20" textLength="8.60" lengthAdjust="spacingAndGlyphs">0</text>
<text x="36.58" y="418.74" font-size="14.30" font-family="Liberation Sans, sans-serif" fill="#1a1a1a" stroke="#1a1a1a" stroke-width="0.20" textLength="5.37" lengthAdjust="spacingAndGlyphs">1</text>
<text x="34.58" y="376.99" font-size="14.30" font-family="Liberation Sans, sans-serif" fill="#1a1a1a" stroke="#1a1a1a" stroke-width="0.20" textLength="9.07" lengthAdjust="spacingAndGlyphs">2</text>
<text x="34.85" y="335.23" font-size="14.30" font-family="Liberation Sans, sans-serif" fill="#1a1a1a" stroke="#1a1a1a" stroke-width="0.20" textLength="8.69" lengthAdjust="spacingAndGlyphs">3</text>
<text x="497.91" y="167.20" font-size="14.30" font-family="Liberation Sans, sans-serif" fill="#1a1a1a" stroke="#1a1a1a" stroke-width="0.20" textLength="8.60" lengthAdjust="spacingAndGlyphs">0</text>
<text x="499.63" y="93.85" font-size="14.30" font-family="Liberation Sans, sans-serif" fill="#1a1a1a" stroke="#1a1a1a" stroke-width="0.20" textLength="5.37" lengthAdjust="spacingAndGlyphs">1</text>
<text x="497.63" y="20.50" font-size="14.30" font-family="Liberation Sans, sans-serif" fill="#1a1a1a" stroke="#1a1a1a" stroke-width="0.20" textLength="9.07" lengthAdjust="spacingAndGlyphs">2</text>
<text x="497.91" y="314.35" font-size="14.30" font-family="Liberation Sans, sans-serif" fill="#1a1a1a" stroke="#1a1a1a" stroke-width="0.20" textLength="8.60" lengthAdjust="spacingAndGlyphs">0</text>
<text x="499.63" y="240.77" font-size="14.30" font-family="Liberation Sans, sans-serif" fill="#1a1a1a" stroke="#1a1a1a" stroke-width="0.20" textLength="5.37" lengthAdjust="spacingAndGlyphs">1</text>
<text x="497.91" y="460.50" font-size="14.30" font-family="Liberation Sans, sans-serif" fill="#1a1a1a" stroke="#1a1a1a" stroke-width="0.20" textLength="8.60" lengthAdjust="spacingAndGlyphs">0</text>
<text x="499.63" y="387.43" font-size="14.30" font-family="Liberation Sans, sans-serif" fill="#1a1a1a" stroke="#1a1a1a" stroke-width="0.20" textLength="5.37" lengthAdjust="spacingAndGlyphs">1</text>
<text x="45.91" y="473.65" font-size="14.30" font-family="Liberation Sans, sans-serif" fill="#1a1a1a" stroke="#1a1a1a" stroke-width="0.20" textLength="8.60" lengthAdjust="spacingAndGlyphs">0</text>
<text x="73.17" y="473.65" font-size="14.30" font-family="Liberation Sans, sans-serif" fill="#1a1a1a" stroke="#1a1a1a" stroke-width="0.20" textLength="9.07" lengthAdjust="spacingAndGlyphs">2</text>
<text x="101.23" y="473.65" font-size="14.30" font-family="Liberation Sans, sans-serif" fill="#1a1a1a" stroke="#1a1a1a" stroke-width="0.20" textLength="8.18" lengthAdjust="spacingAndGlyphs">4</text>
<text x="128.26" y="473.65" font-size="14.30" font-family="Liberation Sans, sans-serif" fill="#1a1a1a" stroke="#1a1a1a" stroke-width="0.20" textLength="8.97" lengthAdjust="spacingAndGlyphs">6</text>
<text x="156.06" y="473.65" font-size="14.30" font-family="Liberation Sans, sans-serif" fill="#1a1a1a" stroke="#1a1a1a" stroke-width="0.20" textLength="8.60" lengthAdjust="spacingAndGlyphs">0</text>
<text x="183.28" y="473.65" font-size="14.30" font-family="Liberation Sans, sans-serif" fill="#1a1a1a" stroke="#1a1a1a" stroke-width="0.20" textLength="9.07" lengthAdjust="spacingAndGlyphs">2</text>
<text x="211.31" y="473.65" font-size="14.30" font-family="Liberation Sans, sans-serif" fill="#1a1a1a" stroke="#1a1a1a" stroke-width="0.20" textLength="8.18" lengthAdjust="spacingAndGlyphs">4</text>
<text x="238.29" y="473.65" font-size="14.30" font-family="Liberation Sans, sans-serif" fill="#1a1a1a" stroke="#1a1a1a" stroke-width="0.20" textLength="8.97" lengthAdjust="spacingAndGlyphs">6</text>
<text x="266.06" y="473.65" font-size="14.30" font-family="Liberation Sans, sans-serif" fill="#1a1a1a" stroke="#1a1a1a" stroke-width="0.20" textLength="8.60" lengthAdjust="spacingAndGlyphs">0</text>
<text x="293.30" y="473.65" font-size="14.30" font-family="Liberation Sans, sans-serif" fill="#1a1a1a" stroke="#1a1a1a" stroke-width="0.20" textLength="9.07" lengthAdjust="spacingAndGlyphs">2</text>
<text x="321.33" y="473.65" font-size="14.30" font-family="Liberation Sans, sans-serif" fill="#1a1a1a" stroke="#1a1a1a" stroke-width="0.20" textLength="8.18" lengthAdjust="spacingAndGlyphs">4</text>
<text x="348.33" y="473.65" font-size="14.30" font-family="Liberation Sans, sans-serif" fill="#1a1a1a" stroke="#1a1a1a" stroke-width="0.20" textLength="8.97" lengthAdjust="spacingAndGlyphs">6</text>
<text x="376.11" y="473.65" font-size="14.30" font-family="Liberation Sans, sans-serif" fill="#1a1a1a" stroke="#1a1a1a" stroke-width="0.20" textLength="8.60" lengthAdjust="spacingAndGlyphs">0</text>
<text x="403.43" y="473.65" font-size="14.30" font-family="Liberation Sans, sans-serif" fill="#1a1a1a" stroke="#1a1a1a" stroke-width="0.20" textLength="9.07" lengthAdjust="spacingAndGlyphs">2</text>
<text x="431.56" y="473.65" font-size="14.30" font-family="Liberation Sans, sans-serif" fill="#1a1a1a" stroke="#1a1a1a" stroke-width="0.20" textLength="8.18" lengthAdjust="spacingAndGlyphs">4</text>
<text x="458.64" y="473.65" font-size="14.30" font-family="Liberation Sans, sans-serif" fill="#1a1a1a" stroke="#1a1a1a" stroke-width="0.20" textLength="8.97" lengthAdjust="spacingAndGlyphs">6</text>
<text x="486.42" y="473.65" font-size="14.30" font-family="Liberation Sans, sans-serif" fill="#1a1a1a" stroke="#1a1a1a" stroke-width="0.20" textLength="8.78" lengthAdjust="spacingAndGlyphs">8</text>
<text x="101.34" y="10.50" font-size="15.30" font-family="Liberation Serif, serif" fill="#1a1a1a" stroke="#1a1a1a" stroke-width="0.30" textLength="8.14" lengthAdjust="spacingAndGlyphs">A</text>
<text x="211.04" y="10.50" font-size="15.30" font-family="Liberation Serif, serif" fill="#1a1a1a" stroke="#1a1a1a" stroke-width="0.30" textLength="9.53" lengthAdjust="spacingAndGlyphs">B</text>
<text x="321.06" y="10.50" font-size="15.30" font-family="Liberation Serif, serif" fill="#1a1a1a" stroke="#1a1a1a" stroke-width="0.30" textLength="9.05" lengthAdjust="spacingAndGlyphs">C</text>
<text x="431.08" y="10.50" font-size="15.30" font-family="Liberation Serif, serif" fill="#1a1a1a" stroke="#1a1a1a" stroke-width="0.30" textLength="9.30" lengthAdjust="spacingAndGlyphs">D</text>
<text font-size="15.30" fill="#1a1a1a"><tspan x="77.48" y="37.60" font-family="Liberation Serif, serif" font-size="15.30" stroke="#1a1a1a" stroke-width="0.30" textLength="18.88" lengthAdjust="spacingAndGlyphs">GX</tspan><tspan x="103.41" y="37.60" font-family="Liberation Sans, sans-serif" font-size="14.30" stroke="#1a1a1a" stroke-width="0.20" textLength="29.29" lengthAdjust="spacingAndGlyphs">5−1</tspan></text>
<text font-size="15.30" fill="#1a1a1a"><tspan x="61.09" y="52.40" font-family="Liberation Sans, sans-serif" font-size="14.30" stroke="#1a1a1a" stroke-width="0.20" textLength="23.88" lengthAdjust="spacingAndGlyphs">25″</tspan><tspan x="93.80" y="52.40" font-family="Liberation Sans, sans-serif" font-size="14.30" stroke="#1a1a1a" stroke-width="0.20" textLength="13.70" lengthAdjust="spacingAndGlyphs">—</tspan><tspan x="115.12" y="52.40" font-family="Liberation Sans, sans-serif" font-size="14.30" stroke="#1a1a1a" stroke-width="0.20" textLength="33.49" lengthAdjust="spacingAndGlyphs">360″</tspan></text>
<text font-size="15.30" fill="#1a1a1a"><tspan x="68.98" y="184.20" font-family="Liberation Serif, serif" font-size="15.30" stroke="#1a1a1a" stroke-width="0.30" textLength="18.88" lengthAdjust="spacingAndGlyphs">GX</tspan><tspan x="96.81" y="184.20" font-family="Liberation Sans, sans-serif" font-size="14.30" stroke="#1a1a1a" stroke-width="0.20" textLength="35.85" lengthAdjust="spacingAndGlyphs">13+1</tspan></text>
<text font-size="15.30" fill="#1a1a1a"><tspan x="57.85" y="199.00" font-family="Liberation Sans, sans-serif" font-size="14.30" stroke="#1a1a1a" stroke-width="0.20" textLength="22.39" lengthAdjust="spacingAndGlyphs">10″</tspan><tspan x="90.00" y="199.00" font-family="Liberation Sans, sans-serif" font-size="14.30" stroke="#1a1a1a" stroke-width="0.20" textLength="13.30" lengthAdjust="spacingAndGlyphs">—</tspan><tspan x="111.13" y="199.00" font-family="Liberation Sans, sans-serif" font-size="14.30" stroke="#1a1a1a" stroke-width="0.20" textLength="33.08" lengthAdjust="spacingAndGlyphs">360″</tspan></text>
<text font-size="15.30" fill="#1a1a1a"><tspan x="66.23" y="330.70" font-family="Liberation Serif, serif" font-size="15.30" stroke="#1a1a1a" stroke-width="0.30" textLength="25.33" lengthAdjust="spacingAndGlyphs">Her</tspan><tspan x="100.04" y="330.70" font-family="Liberation Serif, serif" font-size="15.30" stroke="#1a1a1a" stroke-width="0.30" textLength="15.87" lengthAdjust="spacingAndGlyphs">X1</tspan></text>
<text font-size="15.30" fill="#1a1a1a"><tspan x="57.54" y="345.40" font-family="Liberation Sans, sans-serif" font-size="14.30" stroke="#1a1a1a" stroke-width="0.20" textLength="15.12" lengthAdjust="spacingAndGlyphs">5″</tspan><tspan x="82.40" y="345.40" font-family="Liberation Sans, sans-serif" font-size="14.30" stroke="#1a1a1a" stroke-width="0.20" textLength="13.70" lengthAdjust="spacingAndGlyphs">—</tspan><tspan x="104.13" y="345.40" font-family="Liberation Sans, sans-serif" font-size="14.30" stroke="#1a1a1a" stroke-width="0.20" textLength="33.08" lengthAdjust="spacingAndGlyphs">360″</tspan></text>
<text font-size="15.30" fill="#1a1a1a"><tspan x="205.70" y="505.80" font-family="Liberation Serif, serif" font-size="15.30" stroke="#1a1a1a" stroke-width="0.30" textLength="87.79" lengthAdjust="spacingAndGlyphs">SEPARATION</tspan><tspan x="301.79" y="505.80" font-family="Liberation Serif, serif" font-size="15.30" stroke="#1a1a1a" stroke-width="0.30" textLength="33.37" lengthAdjust="spacingAndGlyphs">(pw)</tspan></text>
<text font-size="15.30" fill="#1a1a1a" transform="translate(11.8,357.3) rotate(-90)"><tspan x="-0.34" y="0.00" font-family="Liberation Serif, serif" font-size="15.30" stroke="#1a1a1a" stroke-width="0.30" textLength="57.52" lengthAdjust="spacingAndGlyphs">NUMBER</tspan><tspan x="67.11" y="0.00" font-family="Liberation Serif, serif" font-size="15.30" stroke="#1a1a1a" stroke-width="0.30" textLength="18.86" lengthAdjust="spacingAndGlyphs">OF</tspan><tspan x="93.33" y="0.00" font-family="Liberation Serif, serif" font-size="15.30" stroke="#1a1a1a" stroke-width="0.30" textLength="97.98" lengthAdjust="spacingAndGlyphs">SEPARATIONS</tspan><tspan x="197.36" y="0.00" font-family="Liberation Serif, serif" font-size="15.30" stroke="#1a1a1a" stroke-width="0.30" textLength="46.87" lengthAdjust="spacingAndGlyphs">(×10³)</tspan></text>
<text font-size="15.30" fill="#1a1a1a" transform="translate(522.8,248.6) rotate(-90)"><tspan x="-0.59" y="0.00" font-family="Liberation Sans, sans-serif" font-size="15.00" stroke="#1a1a1a" stroke-width="0.20" textLength="27.06" lengthAdjust="spacingAndGlyphs">ϵ(s)</tspan></text>
</svg>
</body></html>
